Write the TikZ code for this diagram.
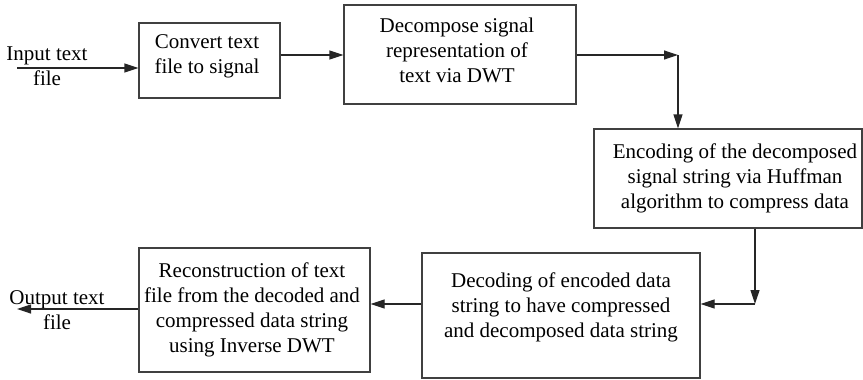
\documentclass[tikz,border=0pt]{standalone}
\usepackage{fontspec}
\setmainfont{Liberation Serif}
\usetikzlibrary{arrows.meta}
\begin{document}
\begin{tikzpicture}[x=0.5pt,y=-0.5pt,
  font=\fontsize{10.5}{12.5}\selectfont,
  box/.style={draw=black!75,line width=0.6pt,inner sep=0pt,anchor=center},
  txt/.style={align=center,inner sep=0pt,anchor=center},
  arr/.style={draw=black!85,line width=0.6pt,-{Triangle[length=7pt,width=4.5pt]}}]
\useasboundingbox (0,0) rectangle (863,380);

% process boxes
\node[box,minimum width=70.5pt,minimum height=37.5pt] (b1) at (209.5,60.5) {};
\node[box,minimum width=116pt,minimum height=49.5pt] (b2) at (460,54.5) {};
\node[box,minimum width=134pt,minimum height=49.5pt] (b3) at (728,178.5) {};
\node[box,minimum width=139pt,minimum height=62.5pt] (b4) at (561,315.5) {};
\node[box,minimum width=115.5pt,minimum height=62pt] (b5) at (254.5,310) {};

% box texts
\node[txt] (t1) at (207,56) {Convert text\\file to signal};
\node[txt] (t2) at (457,50) {Decompose signal\\representation of\\text via DWT};
\node[txt] (t3) at (735,178) {Encoding of the decomposed\\signal string via Huffman\\algorithm to compress data};
\node[txt] (t4) at (561,307) {Decoding of encoded data\\string to have compressed\\and decomposed data string};
\node[txt] (t5) at (252,310) {Reconstruction of text\\file from the decoded and\\compressed data string\\using Inverse DWT};

% input / output labels
\node[txt] (lin) at (47,66) {Input text\\file};
\node[txt] (lout) at (57,310) {Output text\\file};

% connector end points and corners
\coordinate (in) at (17,68);
\coordinate (j1) at (678,55);
\coordinate (j2) at (755,304);
\coordinate (out) at (17,309);

% connectors
\draw[arr] (in) -- (in -| b1.west);
\draw[arr] (b1.east |- j1) -- (b2.west |- j1);
\draw[arr] (b2.east |- j1) -- (j1);
\draw[arr] (j1) -- (j1 |- b3.north);
\draw[arr] (j2 |- b3.south) -- (j2);
\draw[arr] (j2) -- (j2 -| b4.east);
\draw[arr] (b4.west |- j2) -- (b5.east |- j2);
\draw[arr] (b5.west |- out) -- (out);
\end{tikzpicture}
\end{document}
